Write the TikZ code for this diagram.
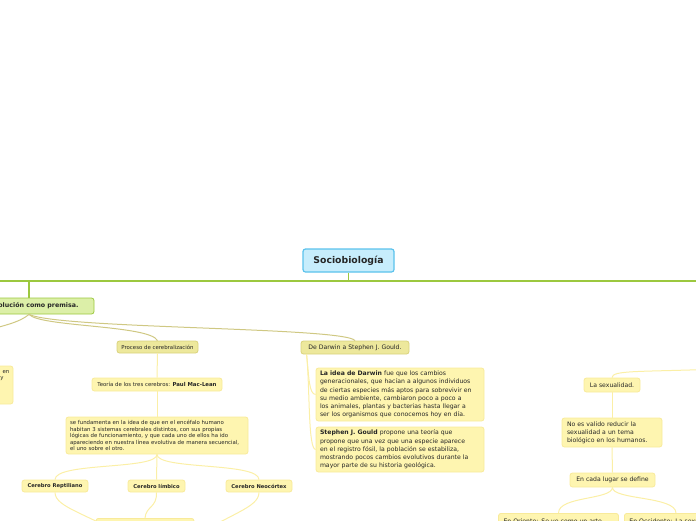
\documentclass[tikz,border=0pt]{standalone}
\usepackage{fontspec}
\setmainfont{DejaVu Sans}
\usepackage{tikz}
\usetikzlibrary{positioning}

\definecolor{rootfill}{HTML}{C7EDFC}
\definecolor{rootline}{HTML}{5BC2EC}
\definecolor{spinegreen}{HTML}{9CC83F}
\definecolor{evofill}{HTML}{DCEFA8}
\definecolor{khakifill}{HTML}{EDE89C}
\definecolor{khakiline}{HTML}{D9D27C}
\definecolor{leaffill}{HTML}{FEF5B0}
\definecolor{leafline}{HTML}{F8EA9A}
\definecolor{olivelink}{HTML}{CFC883}
\definecolor{leaflink}{HTML}{FBEFA6}

\tikzset{
    topic/.style={draw, rounded corners=2.5pt, inner sep=0pt, line width=0.8pt, text=black!85},
    rootbox/.style={topic, fill=rootfill, draw=rootline, line width=1.2pt, font=\fontsize{9.3}{11}\selectfont\bfseries},
    evobox/.style={topic, fill=evofill, draw=spinegreen, font=\fontsize{6.3}{8}\selectfont\bfseries},
    khakibox/.style={topic, fill=khakifill, draw=khakiline},
    leafbox/.style={topic, fill=leaffill, draw=leafline},
    tinytext/.style={font=\fontsize{5.4}{6.6}\selectfont},
    tinybold/.style={font=\fontsize{5.2}{6.6}\selectfont\bfseries},
    smalltext/.style={font=\fontsize{6.15}{8.2}\selectfont},
    spine/.style={draw=spinegreen, line width=1.3pt},
    olivebranch/.style={draw=olivelink, line width=1pt},
    leafbranch/.style={draw=leaflink, line width=1pt},
}

\begin{document}
\begin{tikzpicture}[x=1pt, y=-1pt]
    \useasboundingbox (0, 0) rectangle (696, 520);

    % draw main topics
    \node[rootbox, minimum width=91, minimum height=23] (root) at (348.5, 260.5) {Sociobiología};
    \node[evobox, minimum width=130, minimum height=16] (evo) at (29, 306) {La evolución como premisa.};

    \coordinate (spinel) at (-10, 281);
    \coordinate (spiner) at (706, 281);
    \draw[spine] (spinel) -- (spiner);
    \draw[spine] (root.south) -- (root.south |- spinel);
    \draw[spine] (evo.north) -- (evo.north |- spinel);

    % draw box cut by left edge
    \node[leafbox, minimum width=60, minimum height=38] (hidbox) at (-17, 385) {};
    \node[tinytext, text=black!85] (hida) at (6, 372.5) {en};
    \node[tinytext, text=black!85] (hidb) at (2, 378.5) {y};

    % draw cerebralization branch
    \node[khakibox, tinytext, minimum width=81, minimum height=12] (proc) at (157.5, 347) {Proceso de cerebralización};
    \node[leafbox, tinytext, minimum width=130, minimum height=13] (teoria) at (157, 384.5) {Teoría de los tres cerebros: \textbf{Paul Mac-Lean}};
    \node[leafbox, tinytext, text width=174, inner xsep=4, minimum height=37, align=left] (fund) at (157, 435.5)
        {se fundamenta en la idea de que en el encéfalo humano\\
         habitan 3 sistemas cerebrales distintos, con sus propias\\
         lógicas de funcionamiento, y que cada uno de ellos ha ido\\
         apareciendo en nuestra línea evolutiva de manera secuencial,\\
         el uno sobre el otro.};
    \node[leafbox, tinybold, minimum width=66, minimum height=12] (rept) at (55, 486) {Cerebro Reptiliano};
    \node[leafbox, tinybold, minimum width=57, minimum height=12] (limb) at (156.5, 486) {Cerebro límbico};
    \node[leafbox, tinybold, minimum width=66, minimum height=12] (neo) at (259, 486) {Cerebro Neocórtex};
    \node[leafbox, minimum width=98, minimum height=20, anchor=north] (limbchild) at (145, 518) {};
    \coordinate (reptend) at (130, 540);
    \coordinate (neoend) at (190, 540);
    \coordinate (leftend) at (-30, 334);

    \draw[olivebranch] (evo.south) .. controls (20, 322) and (5, 326) .. (leftend);
    \draw[olivebranch] (evo.south) .. controls (40, 327) and (150, 325) .. (proc.north);
    \draw[leafbranch] (proc.south) -- (teoria.north);
    \draw[leafbranch] (teoria.south) -- (fund.north);
    \draw[leafbranch] (fund.south) .. controls (157, 470) and (55, 462) .. (rept.north);
    \draw[leafbranch] (fund.south) -- (limb.north);
    \draw[leafbranch] (fund.south) .. controls (157, 470) and (259, 462) .. (neo.north);
    \draw[leafbranch] (rept.south) .. controls (55, 508) and (90, 514) .. (reptend);
    \draw[leafbranch] (limb.south) .. controls (157, 508) and (146, 506) .. (limbchild.north);
    \draw[leafbranch] (neo.south) .. controls (259, 508) and (228, 514) .. (neoend);

    % draw Darwin and Gould branch
    \node[khakibox, smalltext, minimum width=108, minimum height=13] (dg) at (355, 347.5) {De Darwin a Stephen J. Gould.};
    \node[leafbox, smalltext, text width=160, inner xsep=4, minimum height=53, align=left] (darwin) at (400, 394.5)
        {\textbf{La idea de Darwin} fue que los cambios\\
         generacionales, que hacían a algunos individuos\\
         de ciertas especies más aptos para sobrevivir en\\
         su medio ambiente, cambiaron poco a poco a\\
         los animales, plantas y bacterias hasta llegar a\\
         ser los organismos que conocemos hoy en día.};
    \node[leafbox, smalltext, text width=160, inner xsep=4, minimum height=45, align=left] (gould) at (400, 449.5)
        {\textbf{Stephen J. Gould} propone una teoría que\\
         propone que una vez que una especie aparece\\
         en el registro fósil, la población se estabiliza,\\
         mostrando pocos cambios evolutivos durante la\\
         mayor parte de su historia geológica.};

    \draw[olivebranch] (evo.south) .. controls (60, 329) and (345, 327) .. (dg.north);
    \draw[leafbranch] ([xshift=6]dg.south west) .. controls (309, 378) and (309, 394) .. (darwin.west);
    \draw[leafbranch] ([xshift=6]dg.south west) .. controls (310, 390) and (308, 449) .. (gould.west);

    % draw sexuality branch
    \coordinate (sexstart) at (720, 369);
    \node[leafbox, smalltext, minimum width=56, minimum height=14] (sex) at (612, 385) {La sexualidad.};
    \node[leafbox, smalltext, text width=90, inner xsep=5, minimum height=29, align=left] (noval) at (612, 432.5)
        {No es valido reducir la\\
         sexualidad a un tema\\
         biológico en los humanos.};
    \node[leafbox, smalltext, minimum width=85, minimum height=14] (cada) at (612.5, 480) {En cada lugar se define};
    \node[leafbox, smalltext, text width=110, inner xsep=5, inner ysep=4, minimum height=16, align=left, anchor=north] (oriente) at (558.5, 513)
        {En Oriente: Se ve como un arte};
    \node[leafbox, smalltext, text width=100, inner xsep=5, inner ysep=4, minimum height=16, align=left, anchor=north west] (occidente) at (624, 513)
        {En Occidente: La sexualidad};

    \draw[leafbranch] (sexstart) .. controls (640, 372) and (612, 370) .. (sex.north);
    \draw[leafbranch] (sex.south) -- (noval.north);
    \draw[leafbranch] (noval.south) -- (cada.north);
    \draw[leafbranch] (cada.south) .. controls (612, 500) and (558.5, 496) .. (oriente.north);
    \draw[leafbranch] (cada.south) .. controls (612, 500) and (676, 496) .. (occidente.north -| 676, 0);
\end{tikzpicture}
\end{document}
